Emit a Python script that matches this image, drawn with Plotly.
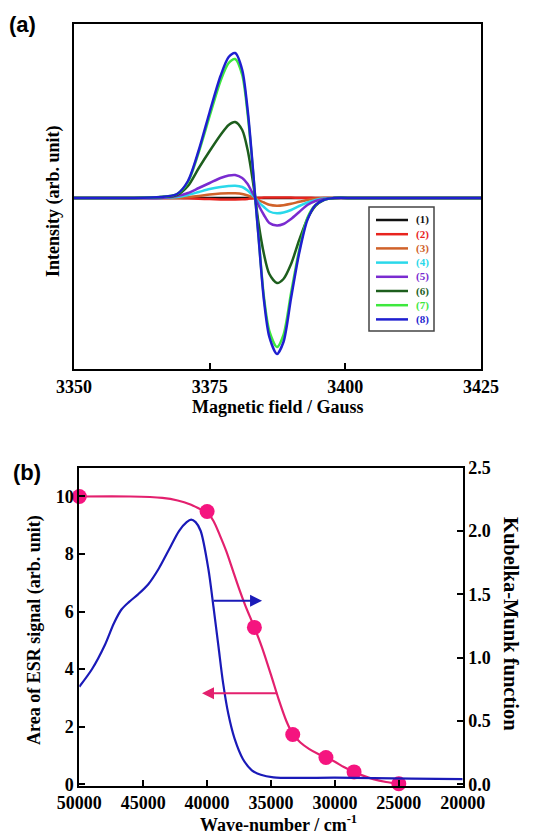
import plotly.graph_objects as go

# ---------------- Panel (a): ESR spectra ----------------
field = [3350, 3360, 3366, 3369, 3371, 3373, 3375, 3377, 3378.5, 3379.7, 3381, 3382, 3382.7,
         3383.4, 3384, 3385, 3386, 3387.4, 3388.6, 3390, 3391.5, 3393, 3394.5, 3396, 3398, 3402, 3425]

s1 = [0] * 27
s2 = [0, 0, 0, 0, -0.003, -0.007, -0.011, -0.014, -0.015, -0.015, -0.013, -0.009, -0.004,
      0, 0.002, 0.004, 0.005, 0.005, 0.005, 0.004, 0.003, 0.002, 0.001, 0, 0, 0, 0]
s3 = [0, 0, 0, 0, 0.01, 0.02, 0.035, 0.045, 0.048, 0.047, 0.04, 0.025, 0.012,
      0, -0.02, -0.045, -0.068, -0.077, -0.072, -0.058, -0.038, -0.02, -0.008, 0, 0, 0, 0]
s4 = [0, 0, 0, 0.01, 0.03, 0.06, 0.09, 0.11, 0.12, 0.123, 0.11, 0.075, 0.04,
      0, -0.04, -0.09, -0.135, -0.153, -0.145, -0.12, -0.08, -0.045, -0.02, -0.005, 0, 0, 0]
s5 = [0, 0, 0, 0.02, 0.05, 0.10, 0.15, 0.20, 0.225, 0.23, 0.20, 0.14, 0.07,
      0, -0.07, -0.17, -0.25, -0.275, -0.26, -0.21, -0.14, -0.07, -0.03, -0.01, 0, 0, 0]
s6 = [0, 0, 0.01, 0.03, 0.12, 0.30, 0.47, 0.63, 0.73, 0.76, 0.68, 0.48, 0.26,
      0, -0.25, -0.56, -0.76, -0.85, -0.81, -0.66, -0.42, -0.21, -0.08, -0.02, 0, 0, 0]
s7 = [0, 0, 0.01, 0.04, 0.16, 0.46, 0.82, 1.17, 1.35, 1.39, 1.23, 0.84, 0.45,
      0, -0.38, -0.99, -1.33, -1.49, -1.37, -0.95, -0.52, -0.20, -0.07, -0.02, 0, 0, 0]
s8 = [0, 0, 0.01, 0.04, 0.17, 0.48, 0.86, 1.22, 1.41, 1.45, 1.28, 0.88, 0.47,
      0, -0.39, -1.02, -1.39, -1.56, -1.44, -1.00, -0.55, -0.22, -0.07, -0.02, 0, 0, 0]

series_names = ["(1)", "(2)", "(3)", "(4)", "(5)", "(6)", "(7)", "(8)"]
series_vals = [s1, s2, s3, s4, s5, s6, s7, s8]
series_colors = ["#111111", "#e8241e", "#d0622a", "#2ad8ea", "#7a2bd0", "#1d5e1d", "#3ee83e", "#1f1fd0"]

field_ticks = [3350, 3375, 3400, 3425]

# ---------------- Panel (b) ----------------
esr_wn = [50000, 40000, 36300, 33300, 30700, 28500, 25000]
esr_area = [10.0, 9.48, 5.45, 1.73, 0.93, 0.43, 0.02]

fit_wn = [50000, 46000, 43500, 42300, 41300, 40500, 40000, 39500, 39000, 38500, 38000, 37500,
          37000, 36300, 35700, 35000, 34400, 33800, 33300, 32700, 32000, 31300, 30700, 30000,
          29300, 28500, 27800, 27000, 26000, 25000]
fit_area = [10.0, 10.0, 9.95, 9.86, 9.72, 9.55, 9.45, 9.15, 8.65, 8.1, 7.45, 6.8,
            6.2, 5.45, 4.75, 3.8, 2.95, 2.2, 1.75, 1.45, 1.22, 1.05, 0.93, 0.78,
            0.6, 0.43, 0.3, 0.18, 0.08, 0.02]

km_wn = [50000, 49000, 48000, 47300, 46700, 46100, 45400, 44600, 43800, 43000, 42200, 41600,
         41250, 40900, 40500, 39900, 39500, 39100, 38750, 38350, 37850, 37200, 36500, 35800,
         34800, 33000, 30000, 27000, 24000, 20000]
km_val = [0.77, 0.91, 1.10, 1.27, 1.38, 1.44, 1.50, 1.58, 1.70, 1.85, 2.00, 2.07,
          2.09, 2.07, 2.00, 1.70, 1.40, 1.08, 0.80, 0.56, 0.36, 0.20, 0.11, 0.075,
          0.055, 0.05, 0.052, 0.048, 0.045, 0.04]

wn_ticks = [50000, 45000, 40000, 35000, 30000, 25000, 20000]
left_ticks = [0, 2, 4, 6, 8, 10]
right_ticks = [0.0, 0.5, 1.0, 1.5, 2.0, 2.5]

# arrows: (tail x, tip x, y on left axis scale)
blue_arrow = (39600, 35700, 6.38)
pink_arrow = (34400, 40400, 3.16)

W, H = 535, 837
def px(x):
    return x / W
def py(y):
    return 1 - y / H

SERIF = "Liberation Serif, Times New Roman, serif"
tickfont = dict(family=SERIF, size=18, color="black", weight="bold")

fig = go.Figure()

for name, vals, col in zip(series_names, series_vals, series_colors):
    fig.add_trace(go.Scatter(x=field, y=vals, mode="lines", name=name,
                             line=dict(color=col, width=2.5, shape="spline", smoothing=0.8),
                             xaxis="x", yaxis="y", showlegend=False))

fig.add_trace(go.Scatter(x=km_wn, y=km_val, mode="lines",
                         line=dict(color="#1a1ab8", width=2.2, shape="spline", smoothing=0.8),
                         xaxis="x2", yaxis="y3", showlegend=False))
fig.add_trace(go.Scatter(x=fit_wn, y=fit_area, mode="lines",
                         line=dict(color="#e3206e", width=2.2, shape="spline", smoothing=0.8),
                         xaxis="x2", yaxis="y2", showlegend=False))
fig.add_trace(go.Scatter(x=esr_wn, y=esr_area, mode="markers",
                         marker=dict(color="#f5147f", size=15),
                         xaxis="x2", yaxis="y2", showlegend=False, cliponaxis=False))

base = dict(showline=True, linecolor="black", linewidth=2,
            showgrid=False, zeroline=False, ticks="inside", ticklen=6, tickwidth=2,
            tickcolor="black", tickfont=tickfont, automargin=False)

fig.update_layout(
    width=W, height=H, autosize=False,
    margin=dict(l=0, r=0, t=0, b=0, pad=0),
    font=dict(family=SERIF, color="black"),
    paper_bgcolor="white", plot_bgcolor="white",
    xaxis=dict(domain=[px(74), px(481)], range=[3350, 3425], tickvals=field_ticks,
               anchor="y", mirror=True, **base),
    yaxis=dict(domain=[py(369), py(24)], range=[-1.71, 1.74], showticklabels=False,
               anchor="x", showline=True, linecolor="black", linewidth=2, mirror=True,
               showgrid=False, zeroline=False, ticks="", automargin=False),
    xaxis2=dict(domain=[px(79.3), px(462.7)], range=[50000, 20000], tickvals=wn_ticks,
                tickformat="d", anchor="y2", mirror=True, **base),
    yaxis2=dict(domain=[py(785.7), py(467.7)], range=[-0.05, 11.0], tickvals=left_ticks,
                anchor="x2", mirror=False, **base),
    yaxis3=dict(domain=[py(785.7), py(467.7)], range=[-0.05 * 2.5 / 11, 2.5], tickvals=right_ticks,
                tickformat=".1f", overlaying="y2", side="right", anchor="x2", mirror=False, **base),
)

ann = []
titlefont = dict(family=SERIF, size=18, color="black", weight="bold")
labfont = dict(family="Liberation Sans, Arial, sans-serif", size=22, color="black", weight="bold")
ann.append(dict(text="(a)", x=px(7), y=py(25), xref="paper", yref="paper", xanchor="left",
                yanchor="middle", showarrow=False, font=labfont))
ann.append(dict(text="(b)", x=px(11), y=py(472), xref="paper", yref="paper", xanchor="left",
                yanchor="middle", showarrow=False, font=labfont))
ann.append(dict(text="Magnetic field / Gauss", x=px(278), y=py(407), xref="paper", yref="paper",
                showarrow=False, font=titlefont, xanchor="center", yanchor="middle"))
ann.append(dict(text="Intensity (arb. unit)", x=px(54), y=py(201), xref="paper", yref="paper",
                showarrow=False, font=titlefont, textangle=-90, xanchor="center", yanchor="middle"))
ann.append(dict(text="Area of ESR signal (arb. unit)", x=px(34), y=py(630), xref="paper", yref="paper",
                showarrow=False, font=titlefont, textangle=-90, xanchor="center", yanchor="middle"))
ann.append(dict(text="Kubelka-Munk function", x=px(511), y=py(624), xref="paper", yref="paper",
                showarrow=False, font=dict(family=SERIF, size=20.5, color="black", weight="bold"),
                textangle=90, xanchor="center", yanchor="middle"))
ann.append(dict(text="Wave-number / cm<sup>-1</sup>", x=px(278), y=0, xref="paper", yref="paper",
                showarrow=False, font=titlefont, xanchor="center", yanchor="bottom"))

for (x0, x1, yv), col in [(blue_arrow, "#1a1ab8"), (pink_arrow, "#e3206e")]:
    ann.append(dict(x=x1, y=yv, ax=x0, ay=yv, xref="x2", yref="y2", axref="x2", ayref="y2",
                    showarrow=True, arrowhead=2, arrowsize=1.2, arrowwidth=2, arrowcolor=col, text=""))

shapes = [dict(type="rect", xref="paper", yref="paper", x0=px(369), x1=px(434), y0=py(331), y1=py(207),
               line=dict(color="#444444", width=1.5), fillcolor="white", layer="above")]
for i, (name, col) in enumerate(zip(series_names, series_colors)):
    yy = 220 + i * 14.2
    shapes.append(dict(type="line", xref="paper", yref="paper", x0=px(376), x1=px(408),
                       y0=py(yy), y1=py(yy), line=dict(color=col, width=2.5), layer="above"))
    ann.append(dict(text=name, x=px(414), y=py(yy), xref="paper", yref="paper", xanchor="left",
                    yanchor="middle", showarrow=False,
                    font=dict(family=SERIF, size=11, color=col, weight="bold")))

fig.update_layout(annotations=ann, shapes=shapes)
fig.write_html("out.html")
